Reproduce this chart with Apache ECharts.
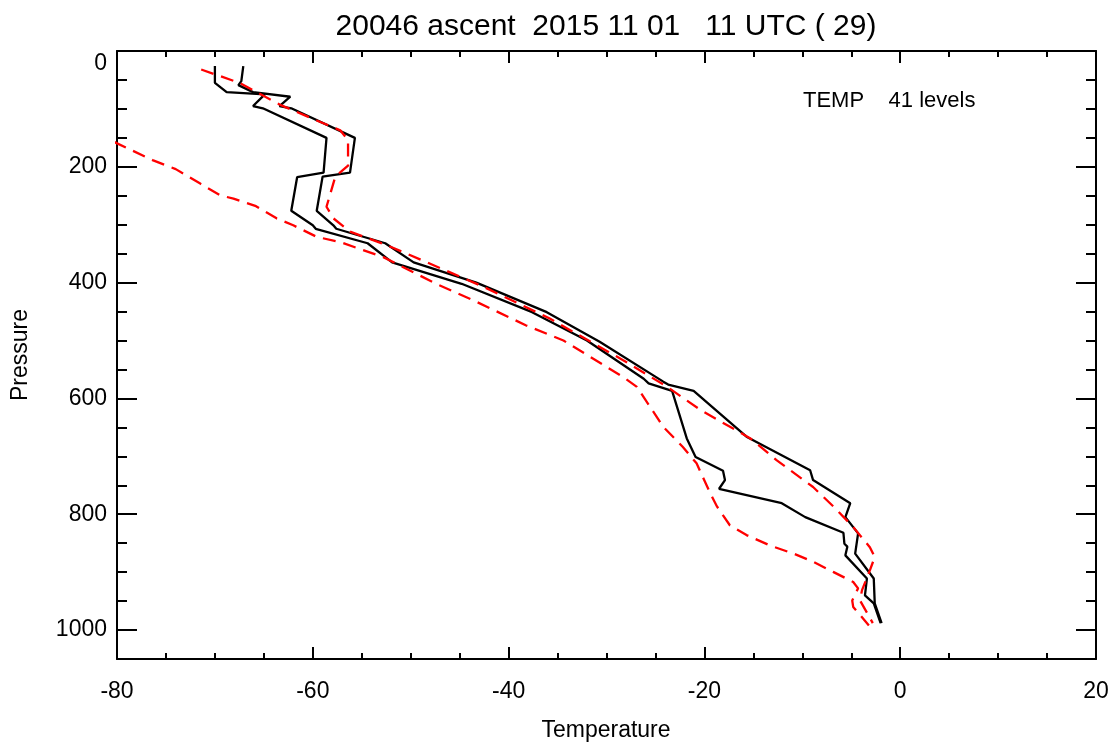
<!DOCTYPE html>
<html>
<head>
<meta charset="utf-8">
<script src="https://cdn.jsdelivr.net/npm/echarts@6/dist/echarts.min.js"></script>
<style>
html,body{margin:0;padding:0;background:#fff;}
#chart{width:1117px;height:747px;}
</style>
</head>
<body>
<div id="chart"></div>
<script>
// ---- data (temperature in deg, pressure in hPa) ----
const titleText = '20046 ascent  2015 11 01   11 UTC ( 29)';
const annotationText = 'TEMP    41 levels';
const xName = 'Temperature';
const yName = 'Pressure';

const tempA = [-70.0,-70.0,-68.8,-64.9,-66.1,-65.1,-58.6,-58.9,-61.6,-62.2,-60.0,-59.7,-54.4,-51.9,-44.8,-37.6,-32.0,-26.2,-25.7,-23.3,-21.8,-20.9,-18.1,-17.9,-18.5,-12.1,-9.7,-5.8,-5.7,-5.4,-5.6,-3.4,-3.6,-2.7,-2.0];
const presA = [26,55,71,75,95,99,150,210,218,276,301,307,332,365,402,451,500,566,574,587,669,701,725,741,756,781,805,832,851,856,871,911,940,954,988];

const tempB = [-67.1,-67.3,-67.6,-66.1,-62.3,-63.4,-62.2,-55.7,-56.2,-59.0,-59.6,-57.9,-57.6,-52.6,-49.7,-43.3,-36.1,-30.7,-24.2,-23.7,-21.1,-15.7,-9.2,-8.9,-5.1,-5.6,-4.3,-4.6,-2.7,-2.6,-1.9];
const presB = [26,52,59,71,79,95,99,150,210,217,276,301,307,332,365,400,451,502,571,576,587,666,724,741,781,805,833,868,911,954,988];

const tempC = [-71.4,-67.5,-63.2,-59.6,-57.2,-56.4,-56.4,-57.7,-58.6,-57.9,-56.2,-52.5,-50.4,-42.6,-35.8,-28.3,-23.8,-20.4,-15.3,-12.6,-8.9,-6.8,-4.8,-3.1,-2.6,-3.1,-3.9,-4.1,-2.8];
const presC = [32,55,94,120,137,154,198,217,269,289,312,335,350,407,462,534,580,620,669,707,753,787,822,857,874,897,931,949,988];

const tempD = [-80.3,-76.3,-74.0,-71.5,-69.5,-68.1,-65.8,-63.7,-62.0,-59.6,-57.2,-52.8,-47.4,-43.3,-38.2,-34.4,-28.3,-26.9,-24.2,-22.2,-20.8,-19.4,-18.7,-17.4,-15.7,-13.3,-10.9,-8.9,-6.8,-4.8,-4.3,-4.9,-4.8,-3.2];
const presD = [157,189,204,229,249,255,268,289,301,321,330,356,402,433,474,500,563,580,649,684,712,764,787,819,836,854,868,882,900,917,928,949,960,992];

const xMin = -80, xMax = 20, xStep = 20;
const yMin = 0, yMax = 1050, yStep = 200, yMinorStep = 50;

function pairs(t, p) { return t.map((v, i) => [v, p[i]]); }

const FONT = 'Liberation Sans, Arial, Helvetica, sans-serif';
const chart = echarts.init(document.getElementById('chart'), null, {renderer: 'canvas'});

const lineCol = '#000';
function xAx(pos, labels) {
  return {
    type: 'value', position: pos, min: xMin, max: xMax, interval: xStep,
    axisLine: {show: true, onZero: false, lineStyle: {color: lineCol, width: 2}},
    axisTick: {show: true, inside: true, length: 12, lineStyle: {color: lineCol, width: 2}},
    minorTick: {show: true, splitNumber: 4, length: 6, lineStyle: {color: lineCol, width: 2}},
    splitLine: {show: false}, minorSplitLine: {show: false},
    axisLabel: {show: labels, margin: 21, color: '#000', fontSize: 23, fontFamily: FONT}
  };
}
function yAx(pos, step, len, labels, line) {
  return {
    type: 'value', position: pos, inverse: true, min: yMin, max: yMax, interval: step,
    axisLine: {show: line, onZero: false, lineStyle: {color: lineCol, width: 2}},
    axisTick: {show: true, inside: true, length: len, lineStyle: {color: lineCol, width: 2}},
    splitLine: {show: false},
    axisLabel: {
      show: labels, margin: 10, color: '#000', fontSize: 23, fontFamily: FONT,
      formatter: function (v) {
        if (v === yMax) return '';
        if (v === 0) return '{z|0}';
        return String(v);
      },
      rich: {z: {padding: [26, 0, 0, 0], fontSize: 23, fontFamily: FONT, color: '#000'}}
    }
  };
}

const option = {
  animation: false,
  backgroundColor: '#fff',
  grid: {left: 117, right: 21, top: 51, bottom: 88, containLabel: false},
  xAxis: [xAx('bottom', true), xAx('top', false)],
  yAxis: [
    yAx('left', yStep, 20, true, true),
    yAx('left', yMinorStep, 10, false, false),
    yAx('right', yStep, 20, false, true),
    yAx('right', yMinorStep, 10, false, false)
  ],
  graphic: [
    {type: 'text', x: 606, y: 27, style: {text: titleText, font: '30px ' + FONT, fill: '#000', textAlign: 'center', textVerticalAlign: 'middle'}},
    {type: 'text', x: 803, y: 101, style: {text: annotationText, font: '22px ' + FONT, fill: '#000', textAlign: 'left', textVerticalAlign: 'middle'}},
    {type: 'text', x: 606, y: 731, style: {text: xName, font: '23px ' + FONT, fill: '#000', textAlign: 'center', textVerticalAlign: 'middle'}},
    {type: 'text', x: 21, y: 355, rotation: Math.PI / 2, style: {text: yName, font: '23px ' + FONT, fill: '#000', textAlign: 'center', textVerticalAlign: 'middle'}}
  ],
  series: [
    {type: 'line', name: 'A', data: pairs(tempA, presA), xAxisIndex: 0, yAxisIndex: 0, showSymbol: false, symbol: 'none', clip: true,
     lineStyle: {color: '#000', width: 2.3}},
    {type: 'line', name: 'B', data: pairs(tempB, presB), xAxisIndex: 0, yAxisIndex: 0, showSymbol: false, symbol: 'none', clip: true,
     lineStyle: {color: '#000', width: 2.3}},
    {type: 'line', name: 'C', data: pairs(tempC, presC), xAxisIndex: 0, yAxisIndex: 0, showSymbol: false, symbol: 'none', clip: true,
     lineStyle: {color: '#ff0000', width: 2.3, type: [13, 8]}},
    {type: 'line', name: 'D', data: pairs(tempD, presD), xAxisIndex: 0, yAxisIndex: 0, showSymbol: false, symbol: 'none', clip: true,
     lineStyle: {color: '#ff0000', width: 2.3, type: [13, 8]}}
  ]
};
chart.setOption(option);
</script>
</body>
</html>
